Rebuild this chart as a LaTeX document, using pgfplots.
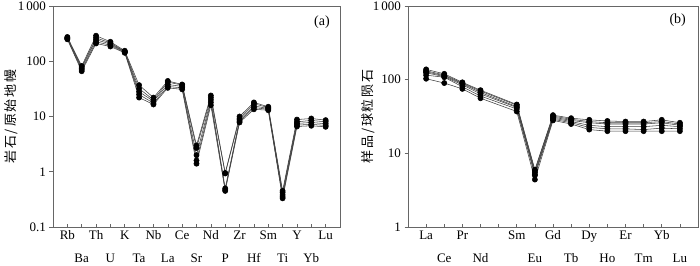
\documentclass[border=0pt]{standalone}
\usepackage{pgfplots}
\usepackage{pgfplotstable}
\pgfplotsset{compat=1.18}
\usepackage{fontspec}
\setmainfont{Liberation Serif}
\newfontfamily\cjk[LetterSpace=15]{Noto Sans CJK SC}

% Panel (a): 1=Rb 2=Ba 3=Th 4=U 5=K 6=Ta 7=Nb 8=La 9=Ce 10=Sr 11=Nd 12=P 13=Zr 14=Hf 15=Sm 16=Ti 17=Y 18=Yb 19=Lu
\pgfplotstableread{
x  s1    s2    s3    s4    s5
1  275   268   262   255   250
2  82    78    74    70    66
3  290   265   245   225   210
4  225   215   205   195   185
5  155   150   148   145   142
6  37    32    28    25    22
7  22    20    19    17.5  16.5
8  44    42    38    35    33
9  38    37    35    33    31
10 3.0   2.7   2.0   1.6   1.4
11 24    22    20    18    16
12 0.95  0.93  0.50  0.47  0.45
13 10    9.3   8.7   8.2   7.8
14 18    17    15.5  14.5  13.5
15 15    14.5  14    13.5  13
16 0.45  0.42  0.38  0.35  0.33
17 8.8   8.0   7.5   7.0   6.6
18 9.2   8.5   7.8   7.2   6.8
19 8.6   8.0   7.4   6.9   6.5
}\tableA

% Panel (b): 1=La 2=Ce 3=Pr 4=Nd 6=Sm 7=Eu 8=Gd 9=Tb 10=Dy 11=Ho 12=Er 13=Tm 14=Yb 15=Lu
\pgfplotstableread{
x  s1    s2    s3    s4    s5    s6
1  138   132   128   124   115   103
2  120   116   113   110   108   90
3  92    90    88    85    80    75
4  72    70    67    64    60    56
6  46    45    43    42    40    37
7  6.0   5.8   5.5   5.2   5.0   4.4
8  33    32    31    30    29    28
9  30    29    28    27    26    25
10 28.5  27    26    24    22.5  21
11 27.5  26    25    23    21.5  20
12 27    26    25    23    21.5  20
13 27    26    25    23    21    20
14 28.5  27    26    24    22    20
15 26    25    24    23    21.5  20
}\tableB

\tikzset{spl/.style={black!75, line width=0.55pt, mark=*, mark size=2.6pt,
      mark options={fill=black, draw=black, solid}}}

\pgfplotsset{
  every axis/.append style={
    ymode=log,
    scale only axis,
    height=221pt,
    axis line style={black!60, line width=0.7pt},
    yminorticks=false,
    ytick pos=left,
    ytick align=outside,
    xtick pos=bottom,
    xtick align=inside,
    major tick length=3.5pt,
    tick label style={font=\fontsize{13}{14}\selectfont},
    /pgf/number format/assume math mode=true,
    clip=false,
  },
  every tick/.append style={black!60, line width=0.6pt},
  every axis y label/.append style={font=\cjk\fontsize{13}{14}\selectfont},
}

\begin{document}
\begin{tikzpicture}
\path[use as bounding box] (0,0) rectangle (700pt,265pt);

\begin{axis}[
  at={(53pt,38pt)}, anchor=south west,
  width=287pt,
  xmin=0, xmax=20,
  ymin=0.1, ymax=1000,
  ytick={0.1,1,10,100,1000},
  yticklabels={0.1,1,10,100,1\,000},
  xtick={1,3,5,7,9,11,13,15,17,19},
  xticklabels={Rb,Th,K,Nb,Ce,Nd,Zr,Sm,Y,Lu},
  extra x ticks={2,4,6,8,10,12,14,16,18},
  extra x tick labels={Ba,U,Ta,La,Sr,P,Hf,Ti,Yb},
  extra x tick style={tick label style={yshift=-23pt}},
  ylabel={岩石/原始地幔},
  ylabel style={at={(axis description cs:-0.146,0.5)}, anchor=center},
]
\addplot[spl] table[x=x, y=s1] {\tableA};
\addplot[spl] table[x=x, y=s2] {\tableA};
\addplot[spl] table[x=x, y=s3] {\tableA};
\addplot[spl] table[x=x, y=s4] {\tableA};
\addplot[spl] table[x=x, y=s5] {\tableA};
\node[font=\fontsize{14}{15}\selectfont] at (rel axis cs:0.937,0.928) {(a)};
\end{axis}

\begin{axis}[
  at={(408pt,38pt)}, anchor=south west,
  width=290pt,
  xmin=0, xmax=16,
  ymin=1, ymax=1000,
  ytick={1,10,100,1000},
  yticklabels={1,10,100,1\,000},
  xtick={1,3,6,8,10,12,14},
  xticklabels={La,Pr,Sm,Gd,Dy,Er,Yb},
  extra x ticks={2,4,5,7,9,11,13,15},
  extra x tick labels={Ce,Nd,,Eu,Tb,Ho,Tm,Lu},
  extra x tick style={tick label style={yshift=-23pt}},
  ylabel={样品/球粒陨石},
  ylabel style={at={(axis description cs:-0.138,0.5)}, anchor=center},
]
\addplot[spl] table[x=x, y=s1] {\tableB};
\addplot[spl] table[x=x, y=s2] {\tableB};
\addplot[spl] table[x=x, y=s3] {\tableB};
\addplot[spl] table[x=x, y=s4] {\tableB};
\addplot[spl] table[x=x, y=s5] {\tableB};
\addplot[spl] table[x=x, y=s6] {\tableB};
\node[font=\fontsize{14}{15}\selectfont] at (rel axis cs:0.93,0.937) {(b)};
\end{axis}
\end{tikzpicture}
\end{document}
